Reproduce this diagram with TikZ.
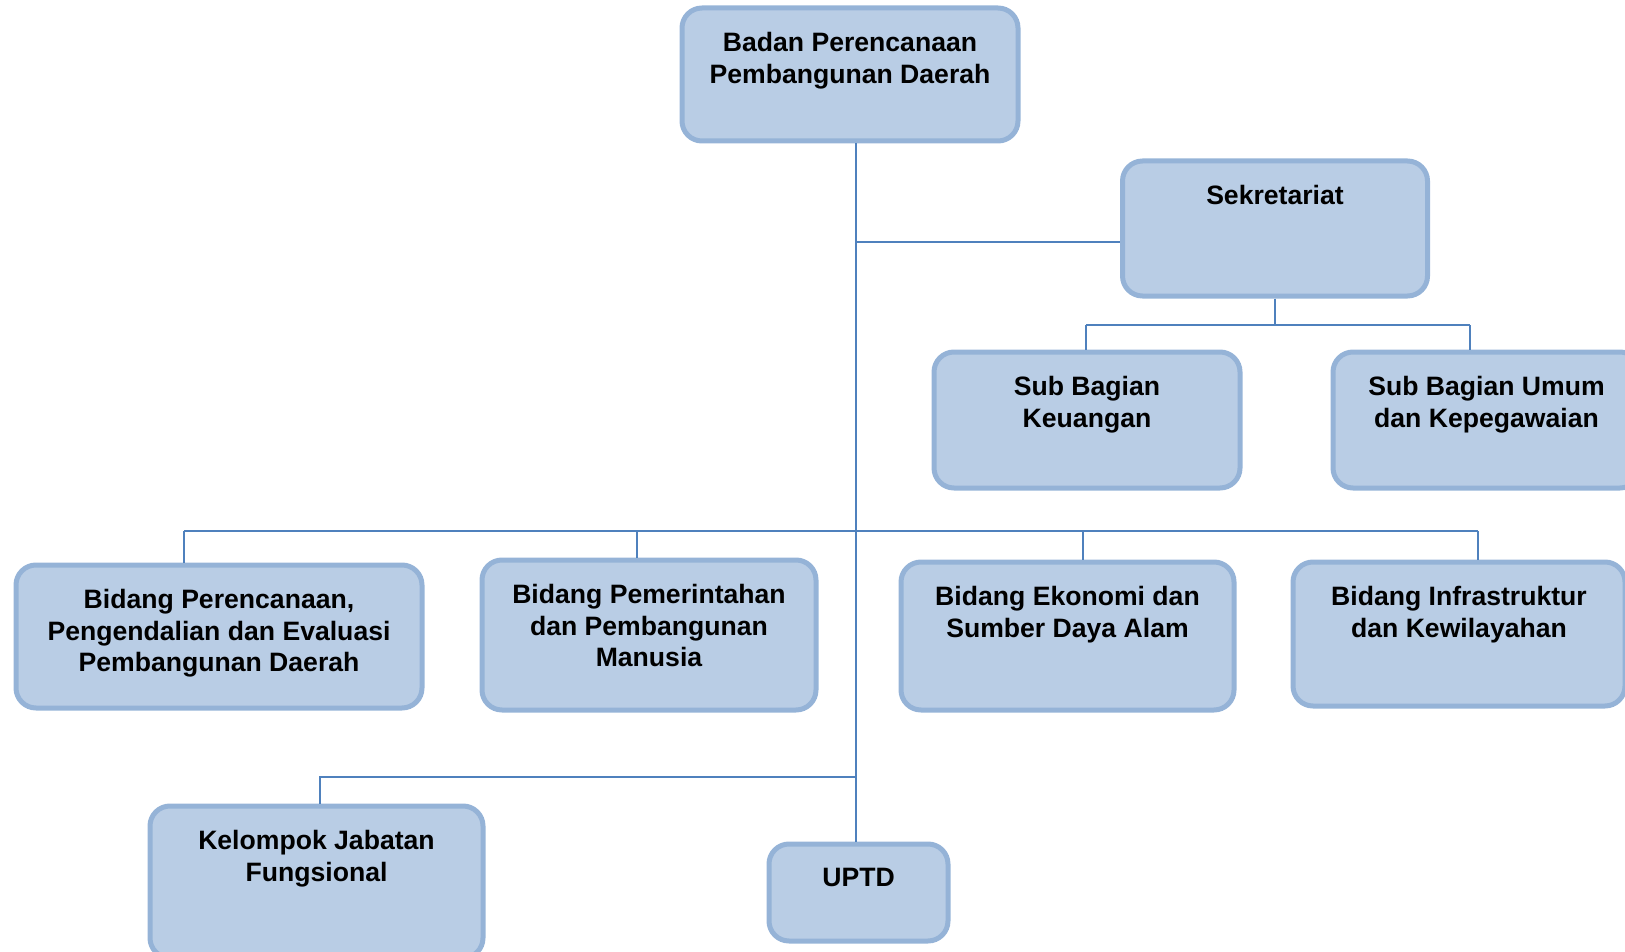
\documentclass[tikz,border=0pt]{standalone}
\usepackage{fontspec}
\setmainfont{Liberation Sans}
\definecolor{boxfill}{HTML}{B9CDE5}
\definecolor{boxline}{HTML}{95B3D7}
\definecolor{connblue}{HTML}{4F81BD}
\tikzset{
  orgbox/.style={draw=boxline, fill=boxfill, line width=5pt, rounded corners=20pt, inner sep=0pt},
  orgtxt/.style={font=\bfseries\fontsize{26.6}{31.7}\selectfont, align=center, inner sep=0pt, anchor=north},
  connline/.style={draw=connblue, line width=2pt}
}
\newcommand\mkbox[6]{%
  \node[orgbox, minimum width=#4pt, minimum height=#5pt] (#1) at (#2,#3) {};
  \node[orgtxt] (#1t) at ([yshift=-26.5pt]#1.north) {#6};
}
\begin{document}
\begin{tikzpicture}[x=1pt, y=-1pt]
\useasboundingbox (0,0) rectangle (1625,952);
\clip (0,0) rectangle (1625,952);
\coordinate (trunk) at (856,0);
\coordinate (jsek) at (856,242);
\coordinate (jsub) at (1275,325);
\coordinate (jbus) at (856,531);
\coordinate (jkel) at (856,777);
% boxes
\mkbox{top}{850}{74.5}{336}{133}{Badan Perencanaan\\Pembangunan Daerah}
\mkbox{sek}{1275}{228.5}{305}{135}{Sekretariat}
\mkbox{sbk}{1087}{420}{306}{136}{Sub Bagian\\Keuangan}
\mkbox{sbu}{1486.5}{420}{307}{136}{Sub Bagian Umum\\dan Kepegawaian}
\mkbox{bpa}{219}{636.5}{406}{143}{Bidang Perencanaan,\\Pengendalian dan Evaluasi\\Pembangunan Daerah}
\mkbox{bpb}{649}{635}{334}{150}{Bidang Pemerintahan\\dan Pembangunan\\Manusia}
\mkbox{bpc}{1067.5}{636}{333}{148}{Bidang Ekonomi dan\\Sumber Daya Alam}
\mkbox{bpd}{1459}{634}{332}{144}{Bidang Infrastruktur\\dan Kewilayahan}
\mkbox{kel}{316.5}{882}{333}{152}{Kelompok Jabatan\\Fungsional}
\mkbox{uptd}{858.5}{892.5}{179}{97}{UPTD}
% lines
\draw[connline] (top.south -| trunk) -- (uptd.north -| trunk);
\draw[connline] (jsek) -- (jsek -| sek.west);
\draw[connline] (sek.south -| jsub) -- (jsub);
\draw[connline] (1086,325) -- (1470,325);
\draw[connline] (1086,325) -- (sbk.north -| 1086,0);
\draw[connline] (1470,325) -- (sbu.north -| 1470,0);
\draw[connline] (184,531) -- (1478,531);
\draw[connline] (184,531) -- (bpa.north -| 184,0);
\draw[connline] (637,531) -- (bpb.north -| 637,0);
\draw[connline] (1083,531) -- (bpc.north -| 1083,0);
\draw[connline] (1478,531) -- (bpd.north -| 1478,0);
\draw[connline] (jkel) -- (320,777) -- (kel.north -| 320,0);
\end{tikzpicture}
\end{document}
